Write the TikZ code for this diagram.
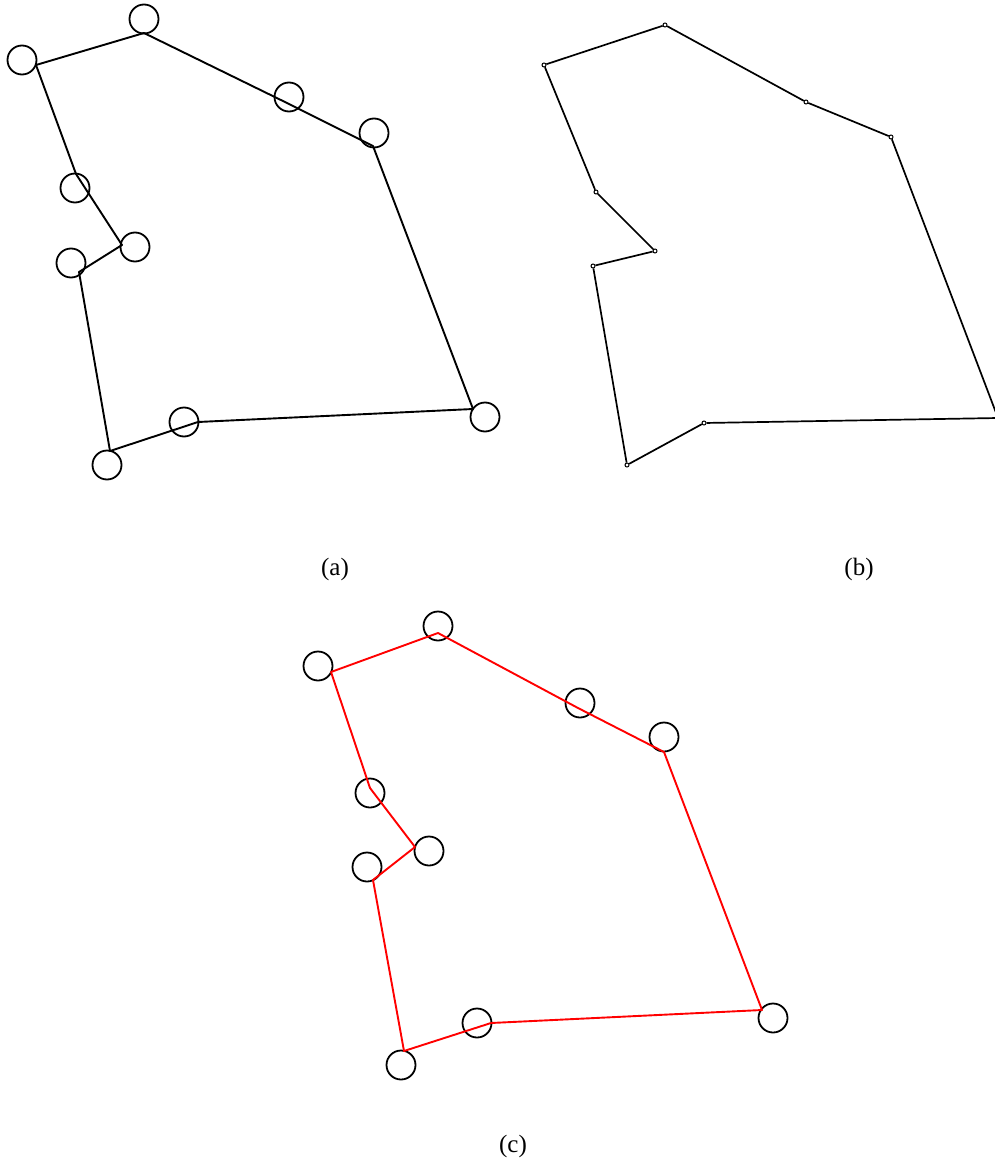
\documentclass[tikz,border=0pt]{standalone}
\usepackage{fontspec}
\setmainfont{Liberation Serif}
\begin{document}
\begin{tikzpicture}[x=1pt,y=-1pt,
  ring/.style={circle,draw=black,line width=1.8pt,minimum size=29pt,inner sep=0pt},
  dotv/.style={circle,draw=black,line width=1pt,minimum size=4pt,inner sep=0pt},
  pathA/.style={draw=black,line width=1.9pt,line join=round},
  pathC/.style={draw=red,line width=1.9pt,line join=round},
  captxt/.style={font=\fontsize{25}{30}\selectfont}]
\useasboundingbox (0,0) rectangle (995,1169);
% ---------- (a) ----------
\foreach \n/\x/\y in {1/22/60,2/144/19,3/289/97,4/374/133,5/75/188,6/135/247,7/71/263,8/107/465,9/184/422,10/485/417}
  \node[ring] (a\n) at (\x,\y) {};
\coordinate (av1) at (36,65);
\coordinate (av2) at (144,33);
\coordinate (av3) at (287,103);
\coordinate (av4) at (373,146);
\coordinate (av5) at (76,174);
\coordinate (av6) at (122,245);
\coordinate (av7) at (79,272);
\coordinate (av8) at (110,451);
\coordinate (av9) at (198,422);
\coordinate (av10) at (473,409);
\draw[pathA] (av1) -- (av2) -- (av3) -- (av4) -- (av10) -- (av9) -- (av8) -- (av7) -- (av6) -- (av5) -- cycle;
% ---------- (b) ----------
\foreach \n/\x/\y in {1/544/65,2/665/25,3/806/102,4/891/137,5/596/192,6/655/251,7/593/266,8/627/465,9/704/423,10/998/418}
  \node[dotv] (b\n) at (\x,\y) {};
\draw[pathA,line width=1.7pt] (b1) -- (b2) -- (b3) -- (b4) -- (b10) -- (b9) -- (b8) -- (b7) -- (b6) -- (b5) -- (b1);
% ---------- (c) ----------
\foreach \n/\x/\y in {1/318/666,2/438/626,3/580/703,4/664/737,5/370/793,6/429/851,7/367/867,8/401/1065,9/477/1023,10/773/1018}
  \node[ring] (c\n) at (\x,\y) {};
\coordinate (cv1) at (331,672);
\coordinate (cv2) at (438,633);
\coordinate (cv3) at (578,708);
\coordinate (cv4) at (664,752);
\coordinate (cv5) at (370,788);
\coordinate (cv6) at (415,847);
\coordinate (cv7) at (373,880);
\coordinate (cv8) at (404,1051);
\coordinate (cv9) at (491,1023);
\coordinate (cv10) at (762,1010);
\draw[pathC] (cv1) -- (cv2) -- (cv3) -- (cv4) -- (cv10) -- (cv9) -- (cv8) -- (cv7) -- (cv6) -- (cv5) -- cycle;
% ---------- captions ----------
\node[captxt] (capa) at (335,569) {(a)};
\node[captxt] (capb) at (859,569) {(b)};
\node[captxt] (capc) at (513,1146) {(c)};
\end{tikzpicture}
\end{document}
